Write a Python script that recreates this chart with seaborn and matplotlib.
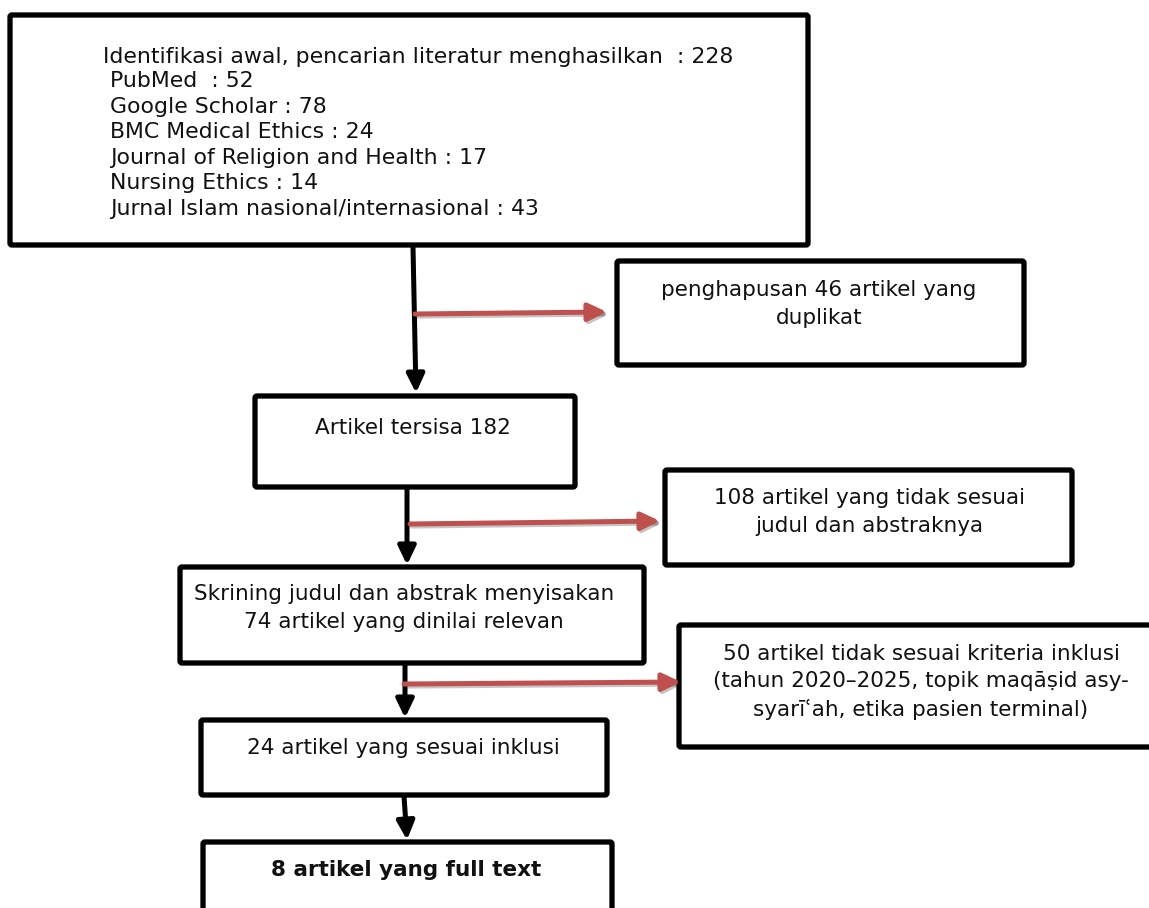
import matplotlib
matplotlib.use("Agg")
import seaborn as sns
import matplotlib.pyplot as plt
from matplotlib.patches import FancyBboxPatch
import matplotlib.patheffects as pe

sns.set_theme(style="white")
plt.rcParams['font.family'] = ['DejaVu Sans']

# --- data (PRISMA counts)
initial_total = 228
sources = ["PubMed ", "Google Scholar", "BMC Medical Ethics",
           "Journal of Religion and Health", "Nursing Ethics",
           "Jurnal Islam nasional/internasional"]
source_counts = [52, 78, 24, 17, 14, 43]
n_duplicates = 46
n_remaining = 182
n_excluded_title = 108
n_screened = 74
n_excluded_criteria = 50
n_included = 24
n_fulltext = 8

# --- box texts
main_texts = {
    'remaining': f"Artikel tersisa {n_remaining}",
    'screened': f"Skrining judul dan abstrak menyisakan\n{n_screened} artikel yang dinilai relevan",
    'included': f"{n_included} artikel yang sesuai inklusi",
    'fulltext': f"{n_fulltext} artikel yang full text",
}
side_texts = {
    'duplicates': f"penghapusan {n_duplicates} artikel yang\nduplikat",
    'excl_title': f"{n_excluded_title} artikel yang tidak sesuai\njudul dan abstraknya",
    'excl_criteria': (f"{n_excluded_criteria} artikel tidak sesuai kriteria inklusi\n"
                      "(tahun 2020\u20132025, topik maq\u0101\u1e63id asy-\n"
                      "syar\u012b\u02bfah, etika pasien terminal)"),
}

# --- layout in pixel space (x0, y0, x1, y1)
boxes = {
    'ident': (10, 15, 808, 245),
    'duplicates': (617, 261, 1024, 365),
    'remaining': (255, 396, 575, 487),
    'excl_title': (665, 470, 1072, 565),
    'screened': (180, 567, 644, 663),
    'excl_criteria': (679, 625, 1160, 747),
    'included': (201, 720, 607, 795),
    'fulltext': (203, 842, 612, 930),
}
text_pos = {
    'duplicates': (819, 304),
    'remaining': (413, 428),
    'excl_title': (869, 512),
    'screened': (404, 608),
    'excl_criteria': (921, 682),
    'included': (403, 748),
    'fulltext': (406, 870),
}
black_arrows = [((413, 247), (416, 393)),
                ((407, 487), (407, 565)),
                ((405, 663), (405, 718)),
                ((404, 796), (407, 840))]
red_arrows = [((415, 314), (607, 312)),
              ((410, 524), (660, 521)),
              ((404, 684), (681, 682))]

RED = '#C0504D'
FS = 15.5
FS_TOP = 15.8

fig = plt.figure(figsize=(11.49, 9.08), dpi=100)
ax = fig.add_axes([0, 0, 1, 1])
ax.set_xlim(0, 1149)
ax.set_ylim(908, 0)
ax.axis('off')

for key, (x0, y0, x1, y1) in boxes.items():
    ax.add_patch(FancyBboxPatch((x0, y0), x1 - x0, y1 - y0,
                                boxstyle="round,pad=0,rounding_size=2",
                                fc='white', ec='black', lw=3.8, zorder=2))

# identification box: header + per-source lines
ax.text(103, 57, f"Identifikasi awal, pencarian literatur menghasilkan  : {initial_total}",
        fontsize=FS_TOP, va='center', ha='left', color='#111111', zorder=3)
for i, (src, cnt) in enumerate(zip(sources, source_counts)):
    ax.text(110, 81 + i * 25.6, f"{src} : {cnt}", fontsize=FS_TOP,
            va='center', ha='left', color='#111111', zorder=3)

for key, txt in {**main_texts, **side_texts}.items():
    x, y = text_pos[key]
    ax.text(x, y, txt, fontsize=FS, ha='center', va='center', color='#111111',
            linespacing=1.45, fontweight='bold' if key == 'fulltext' else 'normal',
            zorder=3)

for (x0, y0), (x1, y1) in black_arrows:
    ax.annotate('', xy=(x1, y1), xytext=(x0, y0),
                arrowprops=dict(arrowstyle='-|>,head_length=0.5,head_width=0.24',
                                mutation_scale=22, lw=3.6, color='black',
                                shrinkA=0, shrinkB=0), zorder=1)

shadow = [pe.SimpleLineShadow(offset=(1.5, -1.5), alpha=0.25), pe.Normal()]
for (x0, y0), (x1, y1) in red_arrows:
    ax.annotate('', xy=(x1, y1), xytext=(x0, y0),
                arrowprops=dict(arrowstyle='-|>,head_length=0.5,head_width=0.24',
                                mutation_scale=22, lw=3.6, color=RED,
                                shrinkA=0, shrinkB=0, path_effects=shadow),
                zorder=4)

plt.savefig('out.png', dpi=100)
